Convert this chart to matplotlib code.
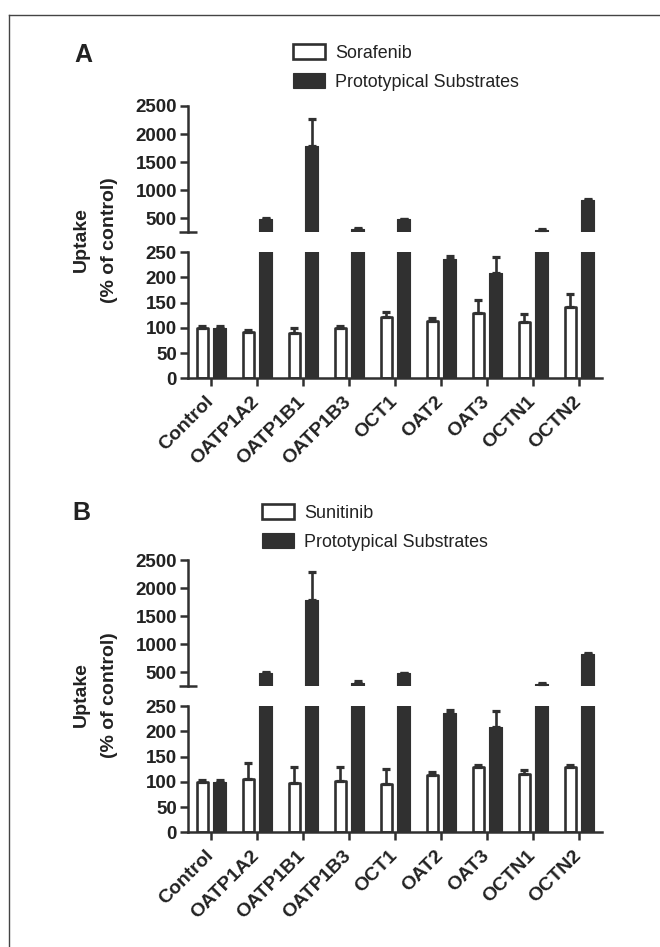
import matplotlib
matplotlib.use("Agg")
import matplotlib.pyplot as plt
from matplotlib.lines import Line2D
import numpy as np

plt.rcParams['font.family'] = ['Liberation Sans', 'DejaVu Sans']

categories = ["Control", "OATP1A2", "OATP1B1", "OATP1B3", "OCT1", "OAT2", "OAT3", "OCTN1", "OCTN2"]

# Panel A
sorafenib = [100, 91, 89, 100, 121, 113, 130, 111, 142]
sorafenib_err = [3, 4, 10, 4, 10, 6, 25, 16, 25]
substrates_a = [100, 480, 1780, 300, 480, 236, 208, 290, 820]
substrates_a_err = [3, 20, 490, 35, 15, 6, 33, 15, 15]

# Panel B
sunitinib = [100, 106, 98, 102, 96, 113, 130, 115, 130]
sunitinib_err = [3, 31, 32, 28, 29, 6, 3, 8, 3]
substrates_b = [100, 480, 1780, 305, 480, 236, 208, 295, 820]
substrates_b_err = [3, 20, 500, 35, 15, 6, 33, 15, 15]

upper_ticks = [500, 1000, 1500, 2000, 2500]
lower_ticks = [0, 50, 100, 150, 200, 250]
BREAK = 250

DARK = "#303030"
W, H = 660, 947
fig = plt.figure(figsize=(W / 100, H / 100), dpi=100)


def rect(x0, y0, x1, y1):
    return [x0 / W, 1 - y1 / H, (x1 - x0) / W, (y1 - y0) / H]


def style(ax):
    for s in ["top", "right"]:
        ax.spines[s].set_visible(False)
    for s in ["left", "bottom"]:
        ax.spines[s].set_linewidth(1.8)
        ax.spines[s].set_color(DARK)
    ax.tick_params(axis="y", length=6, width=1.8, color=DARK, pad=2,
                   labelsize=13.5, labelcolor="#222222")
    for lab in ax.get_yticklabels():
        lab.set_fontweight("bold")


def draw_bars(ax, drug, drug_err, sub, sub_err, label, upper=False):
    x = np.arange(len(categories))
    off = 0.19
    n = len(categories)
    drug = np.asarray(drug, float)
    sub = np.asarray(sub, float)
    de = np.asarray(drug_err, float)
    se = np.asarray(sub_err, float)
    if upper:
        # only the parts above the axis break are drawn on the upper segment
        de = np.where(drug + de > BREAK, de, np.nan)
        se = np.where(sub + se > BREAK, se, np.nan)
        drug = np.where(drug > BREAK, drug, np.nan)
        sub = np.where(sub > BREAK, sub, np.nan)
    b1 = ax.bar(x - off, drug, width=0.25, facecolor="white", edgecolor=DARK,
                linewidth=1.9, joinstyle="round", label=label, zorder=2)
    ax.errorbar(x - off, drug, yerr=[np.zeros(n), de], fmt="none", ecolor=DARK,
                elinewidth=1.9, capsize=3.1, capthick=2.3, zorder=3)
    b2 = ax.bar(x + off, sub, width=0.29, facecolor=DARK, edgecolor=DARK,
                linewidth=0.8, joinstyle="round", label="Prototypical Substrates", zorder=2)
    ax.errorbar(x + off, sub, yerr=[np.zeros(n), se], fmt="none", ecolor=DARK,
                elinewidth=1.9, capsize=3.1, capthick=2.3, zorder=3)
    ax.set_xlim(-0.5, len(categories) - 0.5)
    return b1, b2


def panel(top, letter, drug, drug_err, sub, sub_err, label, ylab_y, leg_xy, letter_xy):
    ax_u = fig.add_axes(rect(188, top, 602, top + 126.3))
    ax_l = fig.add_axes(rect(188, top + 146.3, 602, top + 272.3))

    draw_bars(ax_u, drug, drug_err, sub, sub_err, label, upper=True)
    b1, b2 = draw_bars(ax_l, drug, drug_err, sub, sub_err, label)

    ax_u.set_ylim(BREAK, 2500)
    ax_u.set_yticks(upper_ticks)
    ax_u.set_yticks([BREAK], minor=True)
    ax_u.set_xticks([])
    ax_u.spines["bottom"].set_visible(False)
    style(ax_u)
    ax_u.tick_params(axis="y", which="minor", direction="inout", length=13,
                     width=1.8, color=DARK)

    ax_l.set_ylim(0, BREAK)
    ax_l.set_yticks(lower_ticks)
    ax_l.set_xticks(np.arange(len(categories)))
    ax_l.set_xticklabels(categories, rotation=45, ha="right", va="center",
                         rotation_mode="anchor", fontsize=14, fontweight="bold",
                         color="#222222")
    ax_l.tick_params(axis="x", length=6, width=1.8, color=DARK, pad=9)
    style(ax_l)

    fig.legend([b1, b2], [label, "Prototypical Substrates"], loc="upper left",
               bbox_to_anchor=(leg_xy[0] / W, 1 - leg_xy[1] / H),
               bbox_transform=fig.transFigure, frameon=False, borderpad=0,
               borderaxespad=0, handlelength=1.8, handleheight=0.95,
               handletextpad=0.55, labelspacing=0.6, fontsize=12.9,
               labelcolor="#222222")

    fig.text(letter_xy[0] / W, 1 - letter_xy[1] / H, letter, ha="center", va="center",
             fontsize=18, fontweight="bold", color="#222222")
    fig.text(95 / W, 1 - ylab_y / H, "Uptake\n(% of control)", rotation=90,
             ha="center", va="center", multialignment="center", fontsize=14,
             fontweight="bold", linespacing=1.85, color="#222222")


panel(106, "A", sorafenib, sorafenib_err, substrates_a, substrates_a_err,
      "Sorafenib", 240, (293, 44), (83, 55))
panel(560, "B", sunitinib, sunitinib_err, substrates_b, substrates_b_err,
      "Sunitinib", 695, (262, 504), (81, 513))

# outer frame (left and top edges visible)
fig.add_artist(Line2D([9 / W, 9 / W], [0, 1 - 15 / H], transform=fig.transFigure,
                      color="#444444", linewidth=1.0))
fig.add_artist(Line2D([9 / W, 1], [1 - 15 / H, 1 - 15 / H], transform=fig.transFigure,
                      color="#444444", linewidth=1.0))

fig.savefig("out.png", dpi=100, facecolor="white")
